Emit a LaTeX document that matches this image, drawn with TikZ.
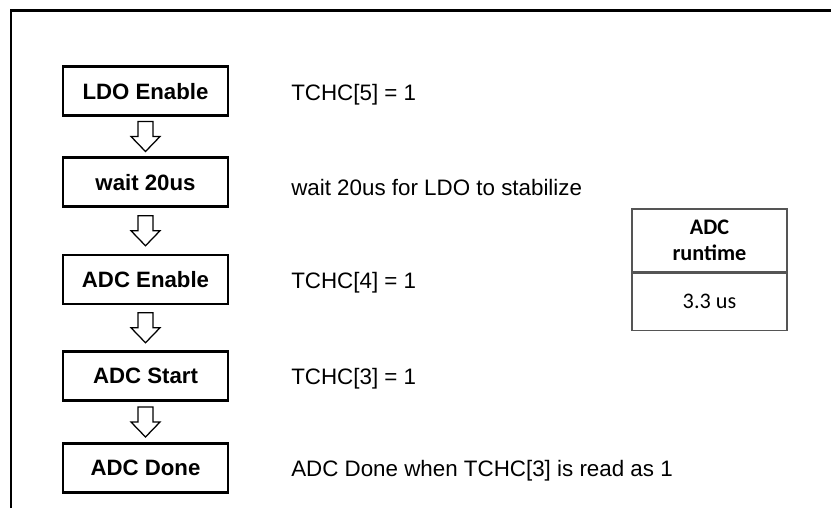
\documentclass[tikz,border=0pt]{standalone}
\usepackage{fontspec}
\setmainfont{Liberation Sans}
\newfontfamily\tablefont{Carlito}
\usetikzlibrary{calc,positioning}
\definecolor{framecol}{RGB}{0,0,0}
\definecolor{cellcol}{RGB}{85,85,85}
\tikzset{
  stepbox/.style={draw,line width=1.5pt,minimum width=4.125cm,minimum height=1.225cm,inner sep=0pt,text depth=0pt,font=\fontsize{15.8}{18}\selectfont\bfseries},
  note/.style={anchor=base west,inner sep=0pt,font=\fontsize{15.9}{18}\selectfont},
  hollow/.style={draw,line width=0.9pt,fill=white,line join=miter},
  rtcell/.style={draw=cellcol,line width=0.8pt,minimum width=3.875cm,inner sep=0pt,align=center,font=\tablefont\fontsize{15.8}{18.4}\selectfont}
}
\begin{document}
\begin{tikzpicture}[x=0.025cm,y=-0.025cm]
  \useasboundingbox (0,0) rectangle (831,508);
  \draw[framecol,line width=2.1pt] (11,508) -- (11,10.5) -- (831,10.5);
  % flow steps
  \node[stepbox] (ldo)   at (145.5,91)  {LDO Enable};
  \node[stepbox] (wait)  at (145.5,182) {wait 20us};
  \node[stepbox] (adcen) at (145.5,279.5) {ADC Enable};
  \node[stepbox] (adcst) at (145.5,376) {ADC Start};
  \node[stepbox] (done)  at (145.5,468) {ADC Done};
  \foreach \a/\b in {ldo/wait,wait/adcen,adcen/adcst,adcst/done}{
    \draw[hollow] ($(\a.south)!0.5!(\b.north)$) ++(-7.5,-15) -- ++(15,0) -- ++(0,15) -- ++(7,0) -- ++(-14.5,15) -- ++(-14.5,-15) -- ++(7,0) -- cycle;}
  % register notes
  \node[note] (ldonote)  at (291,100)   {TCHC[5] = 1};
  \node[note] (waitnote) at (291,195)   {wait 20us for LDO to stabilize};
  \node[note] (ennote)   at (291,288.5) {TCHC[4] = 1};
  \node[note] (stnote)   at (291,384.5) {TCHC[3] = 1};
  \node[note] (donenote) at (291,476.5) {ADC Done when TCHC[3] is read as 1};
  % runtime table
  \node[rtcell,minimum height=1.575cm] (rthead) at (709.5,240.5) {\bfseries ADC\\\bfseries runtime};
  \node[rtcell,minimum height=1.425cm,below=0pt of rthead] (rtval) {3.3 us};
\end{tikzpicture}
\end{document}
